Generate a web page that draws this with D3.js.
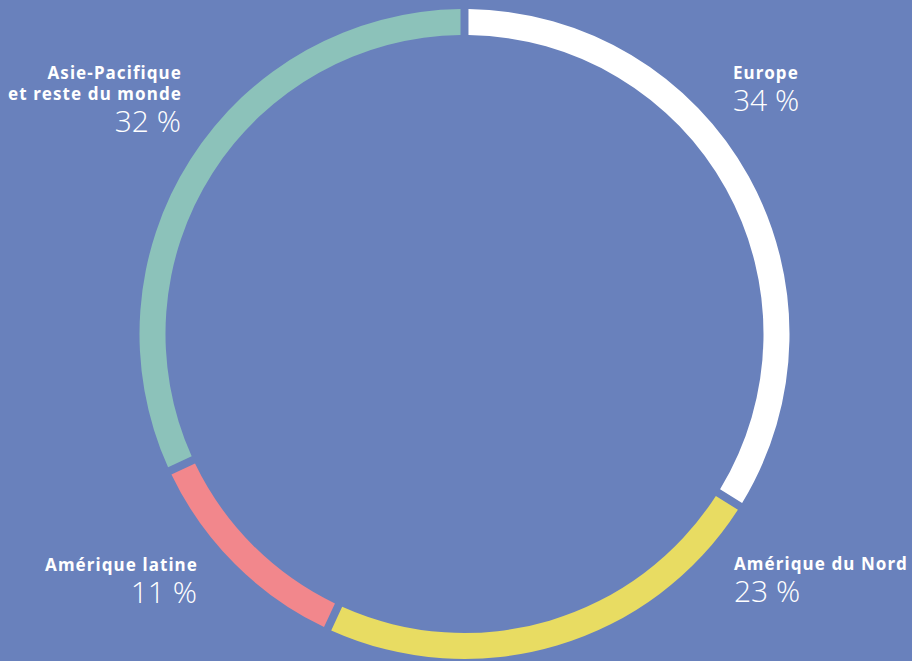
<!DOCTYPE html>
<html lang="fr">
<head>
  <meta charset="UTF-8">
  <title>Répartition géographique</title>
  <script src="https://d3js.org/d3.v7.min.js"></script>
  <style>
    * { margin: 0; padding: 0; box-sizing: border-box; }
    body { background: #6981bc; overflow: hidden; }
    .name { font-family: "Noto Sans", sans-serif; font-weight: 700; font-size: 17px; fill: #fff; letter-spacing: 1.1px; }
    .pct { font-family: "Open Sans", sans-serif; font-weight: 300; font-size: 30px; fill: #fff; }
  </style>
</head>
<body>
  <div id="chart"></div>
  <script>
    // données
    const regions = ["Europe", "Amérique du Nord", "Amérique latine", "Asie-Pacifique et reste du monde"];
    const values = [34, 23, 11, 32];
    const colors = ["#ffffff", "#e8dc62", "#f2878c", "#8cc2ba"];
    const labelLines = [["Europe"], ["Amérique du Nord"], ["Amérique latine"], ["Asie-Pacifique", "et reste du monde"]];
    const pctLabels = ["34 %", "23 %", "11 %", "32 %"];

    const width = 912, height = 661;
    const cx = 464.5, cy = 334;
    const outerR = 325, innerR = 299;

    const svg = d3.select("#chart")
      .append("svg")
      .attr("width", width)
      .attr("height", height);

    svg.append("rect")
      .attr("width", width)
      .attr("height", height)
      .attr("fill", "#6981bc");

    const data = regions.map((r, i) => ({ region: r, value: values[i], color: colors[i], lines: labelLines[i], pct: pctLabels[i] }));

    const pie = d3.pie()
      .value(d => d.value)
      .sort(null)
      .padAngle(0.018);

    const arc = d3.arc()
      .innerRadius(innerR)
      .outerRadius(outerR);

    const g = svg.append("g")
      .attr("transform", `translate(${cx},${cy})`);

    g.selectAll(".slice")
      .data(pie(data))
      .enter()
      .append("path")
      .attr("class", "slice")
      .attr("d", arc)
      .attr("fill", d => d.data.color);

    // emplacement des étiquettes (ancre, alignement)
    const labelPos = [
      { x: 733, y: 79, anchor: "start" },
      { x: 734, y: 570, anchor: "start" },
      { x: 198, y: 571, anchor: "end" },
      { x: 182, y: 79, anchor: "end" }
    ];

    data.forEach((d, i) => {
      const p = labelPos[i];
      const t = svg.append("g");
      d.lines.forEach((line, j) => {
        t.append("text")
          .attr("class", "name")
          .attr("x", p.x)
          .attr("y", p.y + j * 21)
          .attr("text-anchor", p.anchor)
          .text(line);
      });
      t.append("text")
        .attr("class", "pct")
        .attr("x", p.anchor === "end" ? p.x - 1 : p.x)
        .attr("y", p.y + (d.lines.length - 1) * 21 + 32)
        .attr("text-anchor", p.anchor)
        .text(d.pct);
    });
  </script>
</body>
</html>
